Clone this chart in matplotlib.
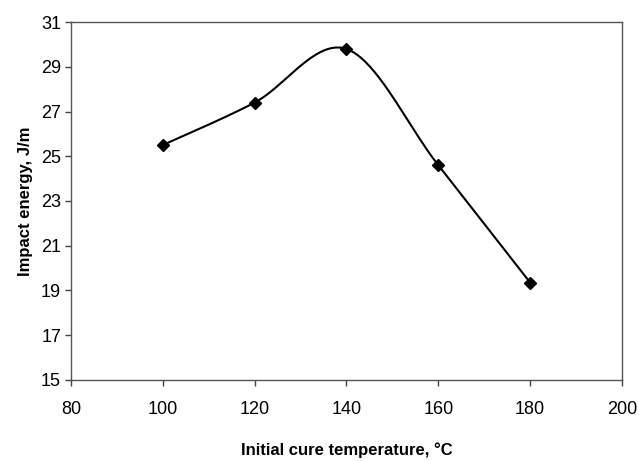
import matplotlib.pyplot as plt
import numpy as np

plt.rcParams["font.family"] = ["Liberation Sans", "DejaVu Sans"]

# Datos
temperatura = [100, 120, 140, 160, 180]
energia = [25.5, 27.4, 29.8, 24.6, 19.35]

x_ticks = [80, 100, 120, 140, 160, 180, 200]
y_ticks = [15, 17, 19, 21, 23, 25, 27, 29, 31]


def curva_suave(xs, ys, n=40):
    """Curva suavizada tipo Excel (Bezier con tensión 1/6)."""
    p = np.column_stack([xs, ys]).astype(float)
    p_ext = np.vstack([p[0], p, p[-1]])
    puntos = []
    for i in range(len(p) - 1):
        p0, p1, p2, p3 = p_ext[i], p_ext[i + 1], p_ext[i + 2], p_ext[i + 3]
        c1 = p1 + (p2 - p0) / 6
        c2 = p2 - (p3 - p1) / 6
        t = np.linspace(0, 1, n)[:, None]
        seg = ((1 - t) ** 3) * p1 + 3 * ((1 - t) ** 2) * t * c1 \
            + 3 * (1 - t) * t ** 2 * c2 + t ** 3 * p2
        puntos.append(seg if i == 0 else seg[1:])
    seg = np.vstack(puntos)
    return seg[:, 0], seg[:, 1]


fig = plt.figure(figsize=(6.38, 4.61), dpi=100)
ax = fig.add_axes([0.111, 0.176, 0.864, 0.776])

sx, sy = curva_suave(temperatura, energia)
ax.plot(sx, sy, color="black", linewidth=1.5)
ax.plot(temperatura, energia, linestyle="none", marker="D", markersize=6,
        color="black")

ax.set_xlim(80, 200)
ax.set_ylim(15, 31)
ax.set_xticks(x_ticks)
ax.set_yticks(y_ticks)
ax.tick_params(axis="both", direction="out", length=4, width=1,
               color="#444444", labelsize=13)
ax.tick_params(axis="x", pad=11)
ax.tick_params(axis="y", pad=3)

for lado in ax.spines.values():
    lado.set_color("#555555")
    lado.set_linewidth(1)

ax.set_xlabel("Initial cure temperature, °C", fontsize=12, fontweight="bold",
              labelpad=18)
ax.set_ylabel("Impact energy, J/m", fontsize=12, fontweight="bold",
              labelpad=6)

plt.savefig("out.png", dpi=100)
